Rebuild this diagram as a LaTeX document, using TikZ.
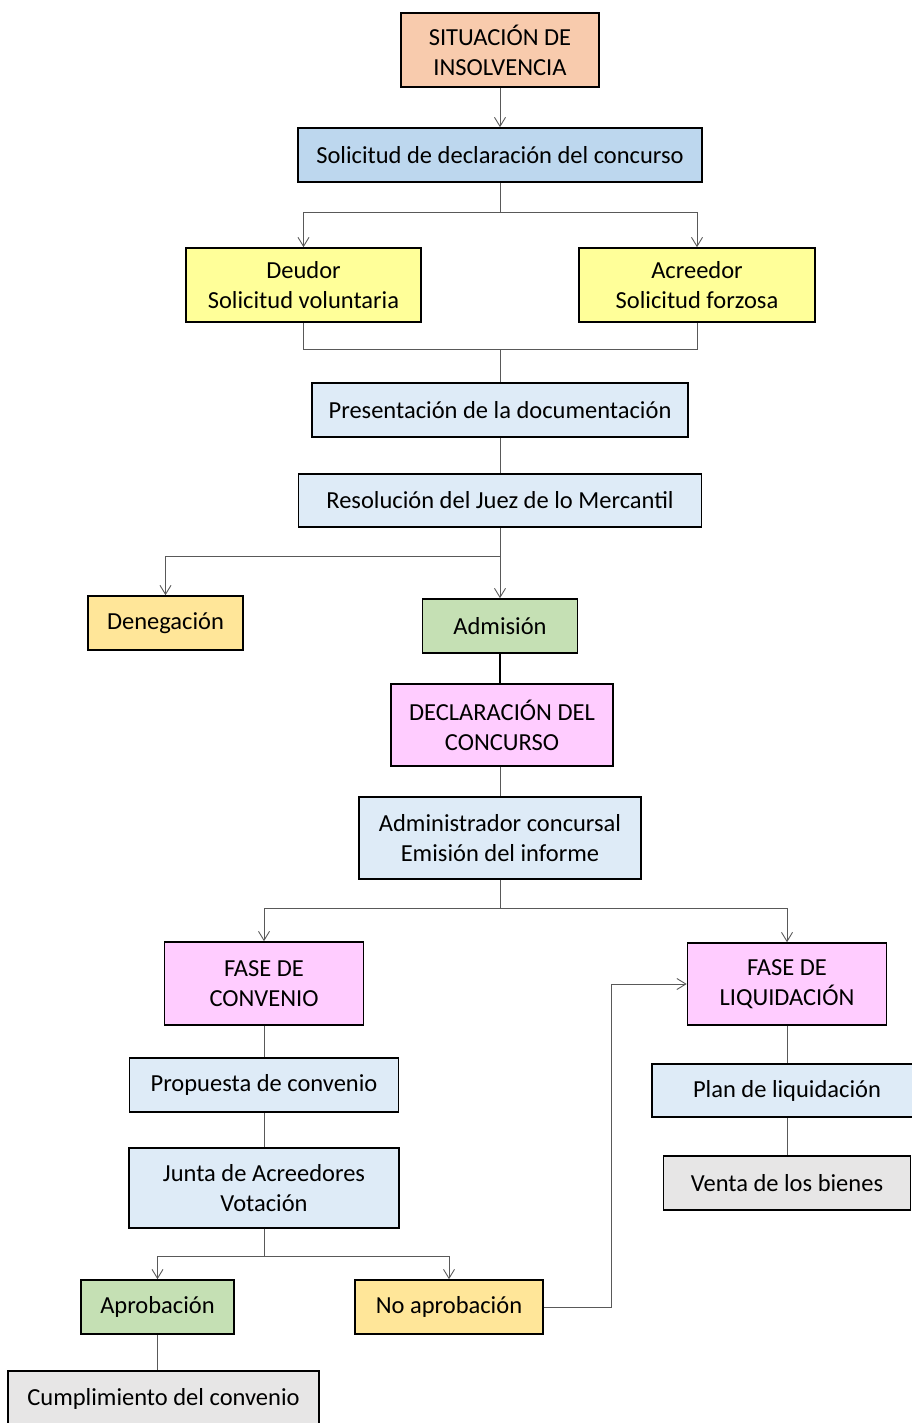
\documentclass[tikz,border=0pt]{standalone}
\usepackage{fontspec}
\setmainfont{Carlito}
\usetikzlibrary{arrows.meta}
\definecolor{peach}{HTML}{F8CBAD}
\definecolor{midblue}{HTML}{BDD7EE}
\definecolor{lemon}{HTML}{FFFF99}
\definecolor{paleblue}{HTML}{DEEBF7}
\definecolor{gold}{HTML}{FFE699}
\definecolor{sage}{HTML}{C5E0B4}
\definecolor{orchid}{HTML}{FFCCFF}
\definecolor{ash}{HTML}{E7E6E6}
\begin{document}
\begin{tikzpicture}[x=1pt,y=-1pt,
	box/.style={draw=black,line width=1.6pt,inner sep=0pt,align=center,
		font=\fontsize{24.5}{30}\selectfont},
	conn/.style={draw=black!65,line width=0.9pt},
	arr/.style={conn,-{Straight Barb[length=9pt,width=11pt]}}]
	\useasboundingbox (0,0) rectangle (912,1423);
	\node[box,fill=peach,minimum width=198pt,minimum height=74pt] (ins) at (500,50) {SITUACIÓN DE\\INSOLVENCIA};
	\node[box,fill=midblue,minimum width=404pt,minimum height=54pt] (sol) at (500,155) {Solicitud de declaración del concurso};
	\node[box,fill=lemon,minimum width=235pt,minimum height=74pt] (deu) at (303.5,285) {Deudor\\Solicitud voluntaria};
	\node[box,fill=lemon,minimum width=236pt,minimum height=74pt] (acr) at (697,285) {Acreedor\\Solicitud forzosa};
	\node[box,fill=paleblue,minimum width=376pt,minimum height=54pt] (pre) at (500,410) {Presentación de la documentación};
	\node[box,fill=paleblue,minimum width=403pt,minimum height=53pt] (res) at (500,500.5) {Resolución del Juez de lo Mercantil};
	\node[box,fill=gold,minimum width=155pt,minimum height=54pt] (den) at (165.5,623) {Denegación};
	\node[box,fill=sage,minimum width=155pt,minimum height=54pt] (adm) at (500,626) {Admisión};
	\node[box,fill=orchid,minimum width=222pt,minimum height=82pt] (dec) at (502,725) {DECLARACIÓN DEL\\CONCURSO};
	\node[box,fill=paleblue,minimum width=282pt,minimum height=82pt] (adc) at (500,838) {Administrador concursal\\Emisión del informe};
	\node[box,fill=orchid,minimum width=199pt,minimum height=83pt] (con) at (264,983.5) {FASE DE\\CONVENIO};
	\node[box,fill=orchid,minimum width=199pt,minimum height=82pt] (liq) at (787,984) {FASE DE\\LIQUIDACIÓN};
	\node[box,fill=paleblue,minimum width=269pt,minimum height=54pt] (pro) at (264,1085) {Propuesta de convenio};
	\node[box,fill=paleblue,minimum width=270pt,minimum height=80pt] (jun) at (264,1188) {Junta de Acreedores\\Votación};
	\node[box,fill=sage,minimum width=153pt,minimum height=54pt] (apr) at (157.5,1307) {Aprobación};
	\node[box,fill=gold,minimum width=188pt,minimum height=54pt] (noa) at (449,1307) {No aprobación};
	\node[box,fill=ash,minimum width=311pt,minimum height=56pt] (cum) at (163.5,1399) {Cumplimiento del convenio};
	\node[box,fill=paleblue,minimum width=270pt,minimum height=53pt] (pla) at (787,1090.5) {Plan de liquidación};
	\node[box,fill=ash,minimum width=247pt,minimum height=54pt] (ven) at (787,1183) {Venta de los bienes};
	% junction points
	\coordinate (j1) at (500,212);
	\coordinate (j2) at (500,349);
	\coordinate (j3) at (500,556);
	\coordinate (j4) at (500,908);
	\coordinate (j5) at (264,1256);
	\coordinate (j6) at (611,1307);
	\draw[arr] (ins) -- (sol);
	\draw[conn] (sol) -- (j1);
	\draw[arr] (j1) -| (deu);
	\draw[arr] (j1) -| (acr);
	\draw[conn] (deu) |- (j2);
	\draw[conn] (acr) |- (j2);
	\draw[conn] (j2) -- (pre);
	\draw[conn] (pre) -- (res);
	\draw[conn] (res) -- (j3);
	\draw[arr] (j3) -| (den);
	\draw[arr] (j3) -- (adm);
	\draw[conn,draw=black,line width=1.5pt] (adm) -- (adm |- dec.north);
	\draw[conn] (dec.south -| adc) -- (adc);
	\draw[conn] (adc) -- (j4);
	\draw[arr] (j4) -| (con);
	\draw[arr] (j4) -| (liq);
	\draw[conn] (con) -- (pro);
	\draw[conn] (pro) -- (jun);
	\draw[conn] (jun) -- (j5);
	\draw[arr] (j5) -| (apr);
	\draw[arr] (j5) -| (noa);
	\draw[conn] (apr) -- (apr |- cum.north);
	\draw[arr] (noa) -- (j6) |- (liq);
	\draw[conn] (liq) -- (pla);
	\draw[conn] (pla) -- (ven);
\end{tikzpicture}
\end{document}
